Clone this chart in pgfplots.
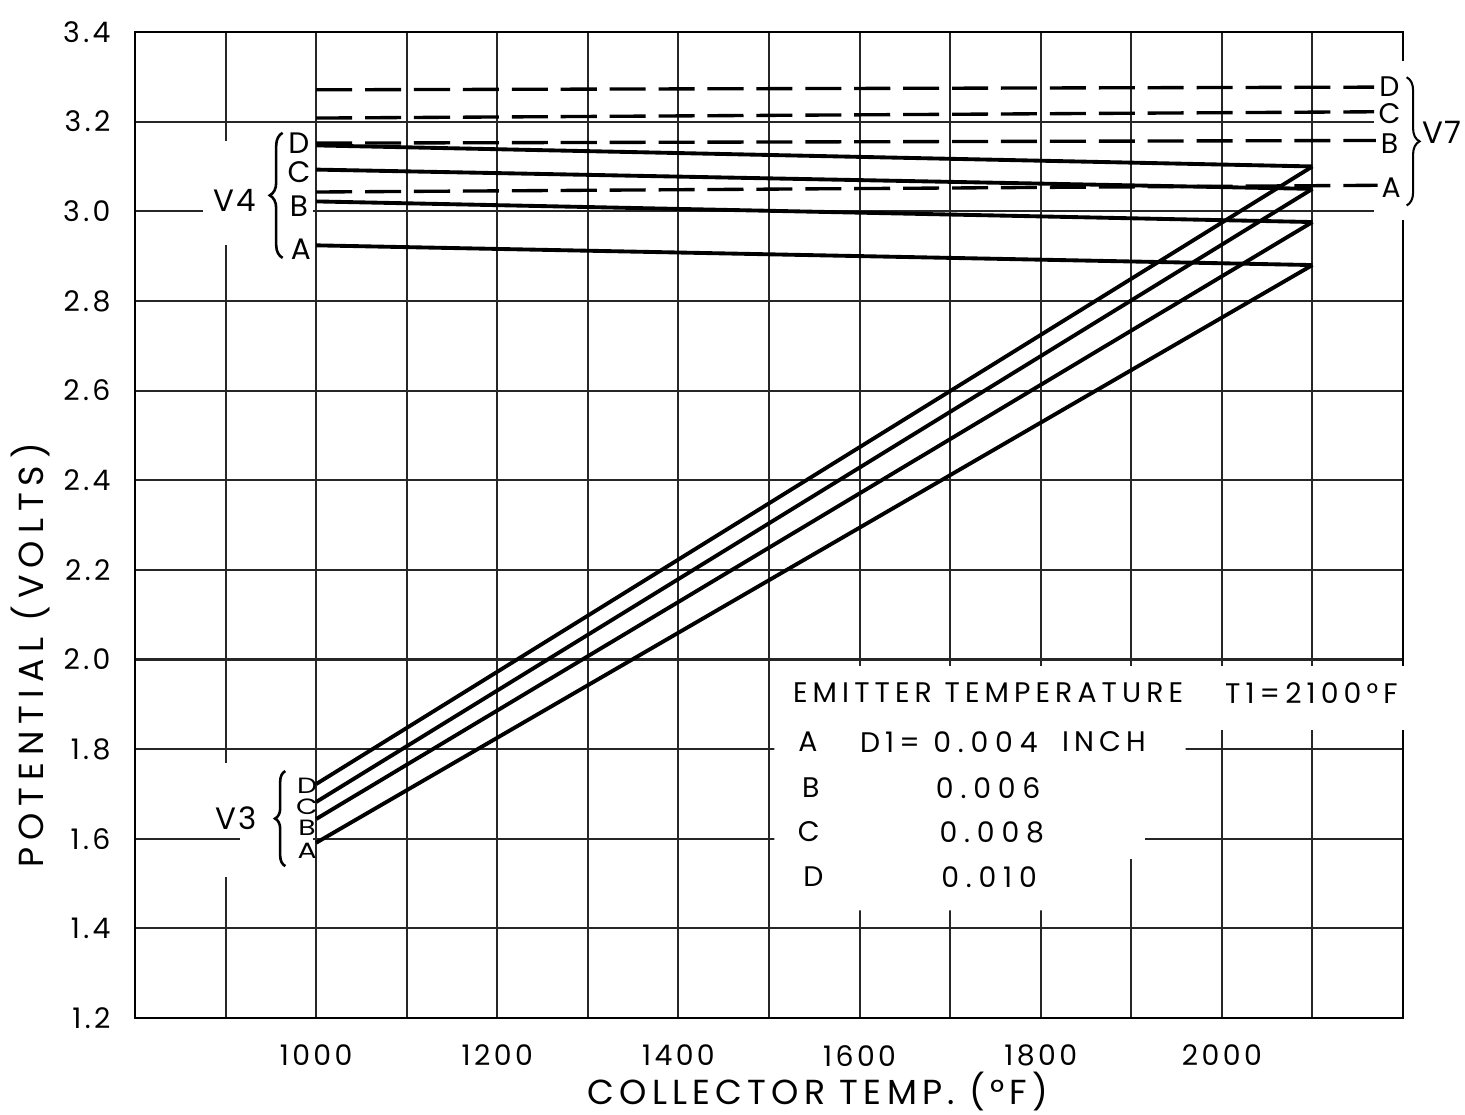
\documentclass[border=0pt]{standalone}
\usepackage{fontspec}
\setmainfont{Poppins}
\newfontfamily\hand[LetterSpace=6]{Poppins}
\newfontfamily\handtick[LetterSpace=12]{Poppins}
\newfontfamily\handwide[LetterSpace=18]{Poppins}
\newfontfamily\handnum[LetterSpace=24]{Poppins}
\newfontfamily\handtitle[LetterSpace=20]{Poppins}
\newfontfamily\handxtitle[LetterSpace=15]{Poppins}
\usepackage{pgfplots}
\pgfplotsset{compat=1.18}
\usetikzlibrary{decorations.pathreplacing}

\tikzset{gridline/.style={black!85, line width=0.8pt}}

\begin{document}
\begin{tikzpicture}
\begin{axis}[
  at={(0,0)}, anchor=south west,
  width=17.311cm, height=13.461cm, scale only axis,
  xmin=800, xmax=2200, ymin=1.2, ymax=3.4,
  xtick={1000,1200,1400,1600,1800,2000},
  xticklabels={1000,1200,1400,1600,1800,2000},
  minor xtick={900,1100,1300,1500,1700,1900,2100},
  ytick={1.2,1.4,1.6,1.8,2.0,2.2,2.4,2.6,2.8,3.0,3.2,3.4},
  yticklabels={1.2,1.4,1.6,1.8,2.0,2.2,2.4,2.6,2.8,3.0,3.2,3.4},
  grid=both,
  major grid style={gridline},
  minor grid style={gridline},
  axis line style={black, line width=1pt},
  major tick length=0pt, minor tick length=0pt,
  tick label style={font=\handtick\fontsize{11}{13}\selectfont},
  xticklabel style={yshift=-7pt},
  yticklabel style={xshift=-6pt},
  clip=false,
]
% blank areas of the grid behind the annotations
\fill[white] (axis cs:875,2.925) rectangle (axis cs:996,3.157);
\fill[white] (axis cs:880,1.515) rectangle (axis cs:996,1.769);
\draw[gridline] (axis cs:880,1.6) -- (axis cs:916,1.6);
\fill[white] (axis cs:2168,2.98) rectangle (axis cs:2240,3.335);
\fill[white] (axis cs:1506,1.985) -- (axis cs:2240,1.985) -- (axis cs:2240,1.843)
  -- (axis cs:1960,1.843) -- (axis cs:1960,1.70) -- (axis cs:1915,1.70)
  -- (axis cs:1915,1.555) -- (axis cs:1855,1.555) -- (axis cs:1855,1.44)
  -- (axis cs:1506,1.44) -- cycle;

% V3: rising lines
\addplot[black, line width=1.5pt] coordinates {(1000,1.591) (2100,2.880)};
\addplot[black, line width=1.5pt] coordinates {(1000,1.644) (2100,2.976)};
\addplot[black, line width=1.5pt] coordinates {(1000,1.682) (2100,3.050)};
\addplot[black, line width=1.5pt] coordinates {(1000,1.722) (2100,3.100)};
% V4: nearly flat lines
\addplot[black, line width=1.5pt] coordinates {(1000,2.924) (2100,2.880)};
\addplot[black, line width=1.5pt] coordinates {(1000,3.022) (2100,2.976)};
\addplot[black, line width=1.5pt] coordinates {(1000,3.093) (2100,3.050)};
\addplot[black, line width=1.5pt] coordinates {(1000,3.147) (2100,3.100)};
% V7: dashed lines
\addplot[black, line width=1.3pt, dash pattern=on 14pt off 5pt] coordinates {(1000,3.043) (2172,3.058)};
\addplot[black, line width=1.3pt, dash pattern=on 14pt off 5pt] coordinates {(1000,3.152) (2170,3.158)};
\addplot[black, line width=1.3pt, dash pattern=on 14pt off 5pt] coordinates {(1000,3.208) (2168,3.222)};
\addplot[black, line width=1.3pt, dash pattern=on 14pt off 5pt] coordinates {(1000,3.271) (2168,3.277)};

% V4 annotation
\node[font=\hand\fontsize{12}{14}\selectfont] at (axis cs:910,3.025) {V4};
\draw[black, line width=1pt, decorate, decoration={brace, amplitude=5pt}]
  (axis cs:963,2.896) -- (axis cs:963,3.175);
\begin{scope}[every node/.style={font=\hand\fontsize{11.5}{13}\selectfont, inner sep=0pt}]
\node at (axis cs:981,3.151) {D};
\node at (axis cs:981,3.087) {C};
\node at (axis cs:981,3.012) {B};
\node at (axis cs:983,2.916) {A};
\end{scope}

% V3 annotation
\node[font=\hand\fontsize{12}{14}\selectfont] at (axis cs:912,1.646) {V3};
\draw[black, line width=1pt, decorate, decoration={brace, amplitude=4pt}]
  (axis cs:966,1.539) -- (axis cs:966,1.751);
\begin{scope}[every node/.style={font=\hand\fontsize{11}{12}\selectfont, yscale=0.78, inner sep=0pt}]
\node at (axis cs:990,1.719) {D};
\node at (axis cs:990,1.672) {C};
\node at (axis cs:990,1.624) {B};
\node at (axis cs:990,1.574) {A};
\end{scope}

% V7 annotation
\begin{scope}[every node/.style={font=\hand\fontsize{11}{13}\selectfont, inner sep=0pt}]
\node at (axis cs:2185,3.277) {D};
\node at (axis cs:2185,3.219) {C};
\node at (axis cs:2185,3.152) {B};
\node at (axis cs:2187,3.052) {A};
\end{scope}
\draw[black, line width=0.8pt, decorate, decoration={brace, amplitude=5pt}]
  (axis cs:2204,3.299) -- (axis cs:2204,3.013);
\node[font=\hand\fontsize{12}{14}\selectfont] at (axis cs:2243,3.175) {V7};

% key
\begin{scope}[every node/.style={font=\handwide\fontsize{11}{13}\selectfont, inner sep=0pt}]
\node[anchor=west] at (axis cs:1526,1.925) {EMITTER TEMPERATURE};
\node[anchor=west] at (axis cs:2003,1.925) {T1=2100°F};
\node at (axis cs:1543,1.816) {A};
\node at (axis cs:1546,1.713) {B};
\node at (axis cs:1544,1.615) {C};
\node at (axis cs:1549,1.515) {D};
\node[anchor=east] at (axis cs:1667,1.816) {D1=};
\node[anchor=west] at (axis cs:1823,1.816) {INCH};
\end{scope}
\begin{scope}[every node/.style={font=\handnum\fontsize{11}{13}\selectfont, inner sep=0pt}]
\node at (axis cs:1739,1.816) {0.004};
\node at (axis cs:1742,1.713) {0.006};
\node at (axis cs:1746,1.615) {0.008};
\node at (axis cs:1743,1.515) {0.010};
\end{scope}

% axis titles
\node[font=\handxtitle\fontsize{13.5}{16}\selectfont] at (axis description cs:0.5386,-0.0745) {COLLECTOR TEMP. (°F)};
\node[font=\handtitle\fontsize{13.5}{16}\selectfont, rotate=90] at (axis description cs:-0.0828,0.368) {POTENTIAL (VOLTS)};
\end{axis}
\pgfresetboundingbox
\path[use as bounding box] (-1.843cm,-1.311cm) rectangle (18.157cm,13.898cm);
\end{tikzpicture}
\end{document}
